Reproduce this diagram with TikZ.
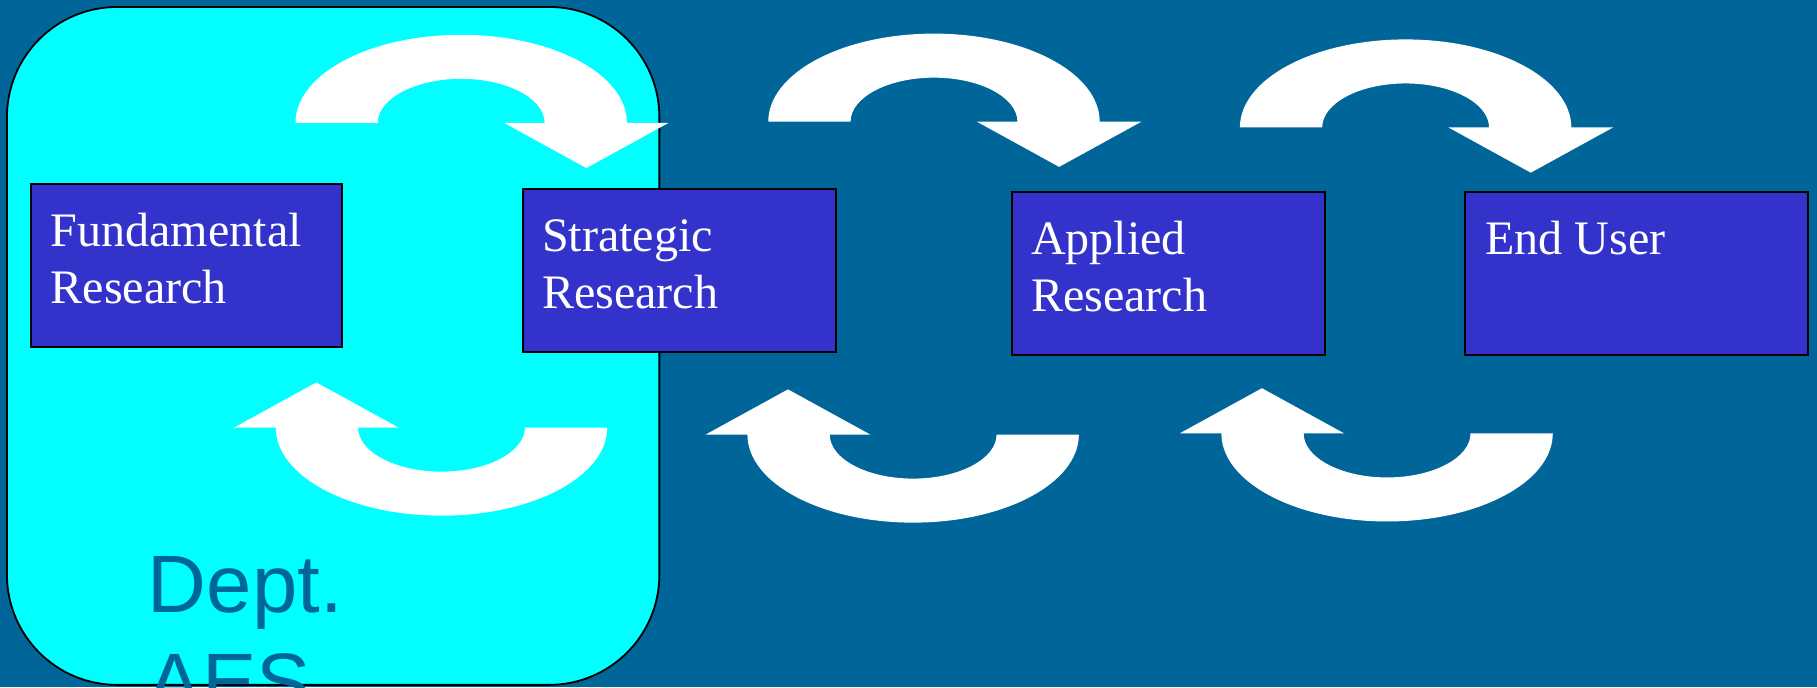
\documentclass[tikz,border=0pt]{standalone}
\usepackage{fontspec}
\setmainfont{Liberation Serif}
\newfontfamily\deptfont{Liberation Sans}
\usepackage{tikz}

\definecolor{bgblue}{HTML}{006699}
\definecolor{boxblue}{HTML}{3333CC}
\definecolor{aqua}{HTML}{00FFFF}

\begin{document}
\begin{tikzpicture}[x=0.01cm,y=-0.01cm,
    box/.style={draw=black,line width=0.5pt,fill=boxblue,
      minimum width=2.7cm,minimum height=1.41cm},
    boxtext/.style={text=white,align=left,inner sep=0pt,anchor=base west,
      font=\fontsize{11.8}{13.9}\selectfont},
    uarrow/.pic={
      \fill[white] (-143,0) arc[start angle=180,end angle=360,x radius=143,y radius=76]
        -- (179,0) -- (108,39) -- (37,0) -- (72,0)
        arc[start angle=360,end angle=180,x radius=72,y radius=38] -- cycle;}]
  \fill[bgblue] (0,0) rectangle (1568,593);
  \clip (0,0) rectangle (1568,593);
  \draw[fill=aqua,line width=0.45pt,rounded corners=0.95cm] (6,6) rectangle (569,591);

  \node[box,minimum width=2.68cm] (fr) at (161,229) {};
  \node[box]                      (sr) at (586,233.5) {};
  \node[box]                      (ar) at (1008,236) {};
  \node[box,minimum width=2.96cm] (eu) at (1412,236) {};

  \node[boxtext] (frtext) at ([shift={(17,104)}]fr.north west) {Fundamental\\Research};
  \node[boxtext] (srtext) at ([shift={(17,104)}]sr.north west) {Strategic\\Research};
  \node[boxtext] (artext) at ([shift={(17,104)}]ar.north west) {Applied\\Research};
  \node[boxtext] (eutext) at ([shift={(18,55)}]eu.north west) {End User};

  \node[font=\deptfont\fontsize{20}{24}\selectfont,text=bgblue,align=left,
        anchor=base west,inner sep=0pt] (dept) at (127,613) {Dept.\\AES};

  \pic at (398,106) {uarrow};
  \pic at (806,105) {uarrow};
  \pic at (1213,110) {uarrow};
  \pic[rotate=180] at (381,369) {uarrow};
  \pic[rotate=180] at (788,375) {uarrow};
  \pic[rotate=180] at (1197,374) {uarrow};
\end{tikzpicture}
\end{document}
